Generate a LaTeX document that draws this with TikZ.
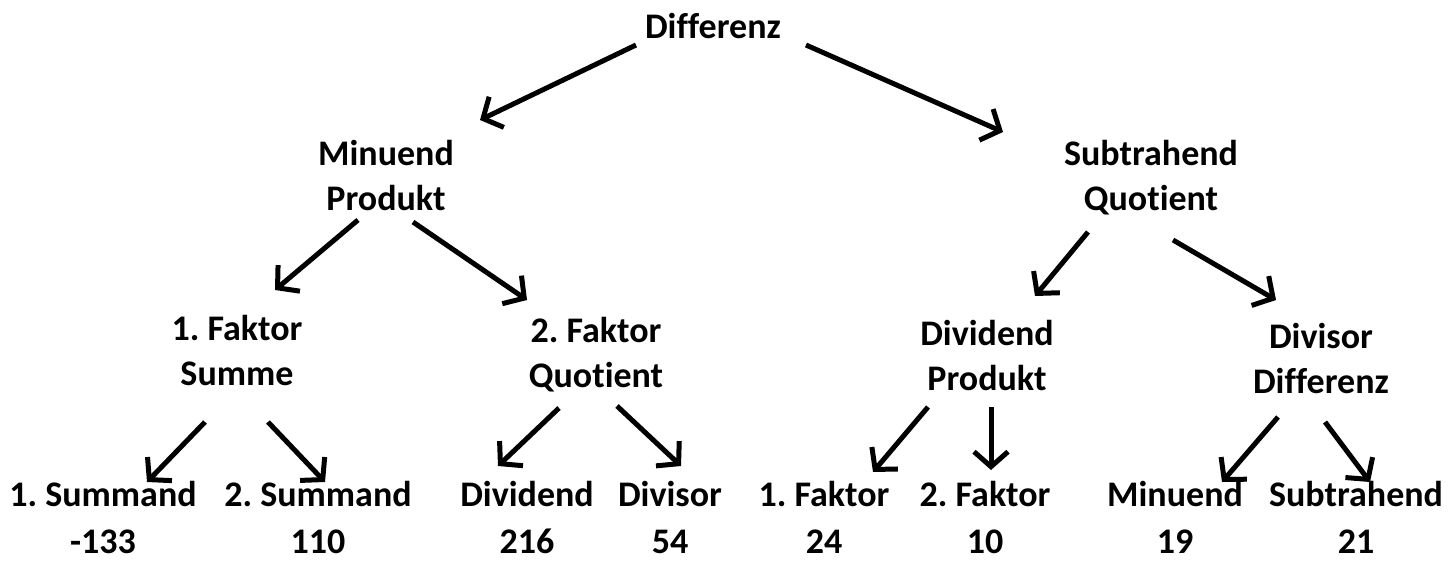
\documentclass[tikz,border=0pt]{standalone}
\usepackage{fontspec}
\setmainfont{Carlito}[Ligatures=NoCommon]
\usetikzlibrary{arrows.meta}
\frenchspacing
\begin{document}
\begin{tikzpicture}[x=1pt,y=-1pt,
  lbl/.style={anchor=base,align=center,inner sep=0pt,font=\frenchspacing\bfseries\fontsize{36}{45}\selectfont},
  arr/.style={line width=5pt,-{Straight Barb[length=15pt,width=34pt]}}]
\useasboundingbox (0,0) rectangle (1451,560);
\node[lbl] (diff) at (713,38) {Differenz};
\node[lbl] (min) at (386,210) {Minuend\\Produkt};
\node[lbl] (sub) at (1151,210) {Subtrahend\\Quotient};
\node[lbl] (f1) at (237,385) {1. Faktor\\Summe};
\node[lbl] (f2) at (596,387) {2. Faktor\\Quotient};
\node[lbl] (dvd) at (987,390) {Dividend\\Produkt};
\node[lbl] (dvs) at (1321,393) {Divisor\\Differenz};
\node[lbl] (s1) at (103,553) {1. Summand\\[2pt]-133};
\node[lbl] (s2) at (318,553) {2. Summand\\[2pt]110};
\node[lbl] (d1) at (527,553) {Dividend\\[2pt]216};
\node[lbl] (d2) at (670,553) {Divisor\\[2pt]54};
\node[lbl] (k1) at (824,553) {1. Faktor\\[2pt]24};
\node[lbl] (k2) at (985,553) {2. Faktor\\[2pt]10};
\node[lbl] (m1) at (1175,553) {Minuend\\[2pt]19};
\node[lbl] (m2) at (1356,553) {Subtrahend\\[2pt]21};
\draw[arr] ([shift={(-77,7)}]diff.base) -- ([shift={(94,-90)}]min.base);
\draw[arr] ([shift={(93,7)}]diff.base) -- ([shift={(-148,-78)}]sub.base);
\draw[arr] ([shift={(-28,10)}]min.base) -- ([shift={(38,-95)}]f1.base);
\draw[arr] ([shift={(27,12)}]min.base) -- ([shift={(-69,-87)}]f2.base);
\draw[arr] ([shift={(-63,22)}]sub.base) -- ([shift={(48,-94)}]dvd.base);
\draw[arr] ([shift={(22,30)}]sub.base) -- ([shift={(-45,-93)}]dvs.base);
\draw[arr] ([shift={(-32,37)}]f1.base) -- ([shift={(44,-71)}]s1.base);
\draw[arr] ([shift={(31,37)}]f1.base) -- ([shift={(7,-71)}]s2.base);
\draw[arr] ([shift={(-37,21)}]f2.base) -- ([shift={(-29,-87)}]d1.base);
\draw[arr] ([shift={(21,19)}]f2.base) -- ([shift={(11,-87)}]d2.base);
\draw[arr] ([shift={(-59,17)}]dvd.base) -- ([shift={(49,-81)}]k1.base);
\draw[arr] ([shift={(4,17)}]dvd.base) -- ([shift={(6,-83)}]k2.base);
\draw[arr] ([shift={(-43,24)}]dvs.base) -- ([shift={(47,-71)}]m1.base);
\draw[arr] ([shift={(4,29)}]dvs.base) -- ([shift={(14,-71)}]m2.base);
\end{tikzpicture}
\end{document}
